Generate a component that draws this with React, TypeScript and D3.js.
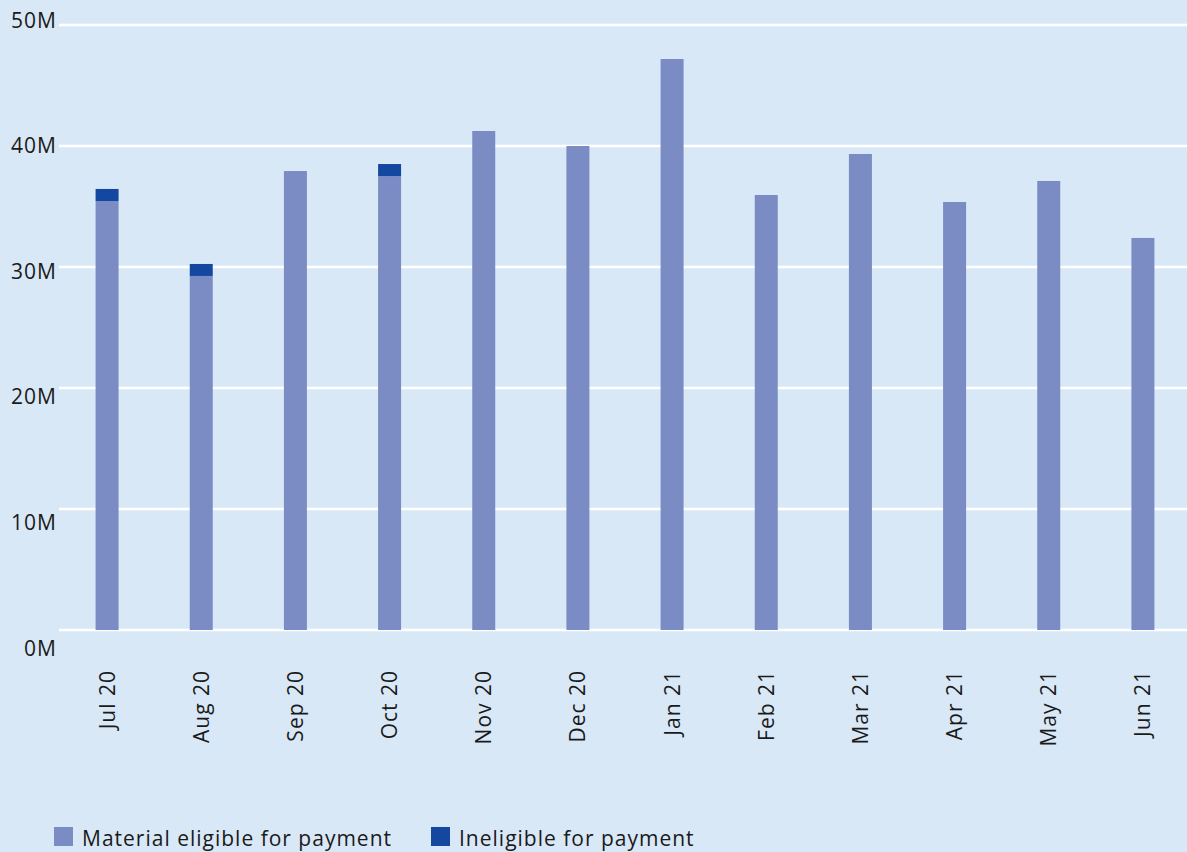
import React from "react";
import * as d3 from "d3";

const categories = ["Jul 20", "Aug 20", "Sep 20", "Oct 20", "Nov 20", "Dec 20", "Jan 21", "Feb 21", "Mar 21", "Apr 21", "May 21", "Jun 21"];
const eligible = [35.45, 29.26, 37.93, 37.52, 41.24, 40.0, 47.19, 35.95, 39.34, 35.37, 37.11, 32.4];
const ineligible = [1.0, 0.99, 0, 0.99, 0, 0, 0, 0, 0, 0, 0, 0];
const yTicks = [0, 10, 20, 30, 40, 50];
const legendItems = ["Material eligible for payment", "Ineligible for payment"];

const W = 1187;
const H = 852;
const BG = "#d9e8f7";
const C_ELIG = "#7b8bc4";
const C_INEL = "#1447a0";
const TEXT = "#1a1a1a";
const FONT = "'Open Sans', 'Noto Sans', sans-serif";
const FS = 21;
const LS = 1.0;

export default function App() {
  const x = d3.scaleBand<string>().domain(categories).range([60, 1190]).padding(0);
  const y = d3.scaleLinear().domain([0, 50]).range([630, 25]);
  const yLabel = d3.scaleLinear().domain([0, 50]).range([648, 20]);
  const barW = 23;
  const legendX = [54, 431];

  return (
    <svg width={W} height={H} style={{ position: "absolute", left: 0, top: 0, background: BG }}>
      <rect x={0} y={0} width={W} height={H} fill={BG} />
      {yTicks.map((t) => (
        <g key={t}>
          <line x1={59} x2={W} y1={y(t)} y2={y(t)} stroke="#ffffff" strokeWidth={2.5} />
          <text x={57} y={yLabel(t)} dy="0.36em" textAnchor="end" fontFamily={FONT} fontSize={FS} letterSpacing={LS} fill={TEXT}>
            {t}M
          </text>
        </g>
      ))}
      {categories.map((c, i) => {
        const cx = (x(c) as number) + x.bandwidth() / 2;
        const e = eligible[i];
        const ie = ineligible[i];
        return (
          <g key={c}>
            <rect x={cx - barW / 2} y={y(e)} width={barW} height={y(0) - y(e)} fill={C_ELIG} />
            {ie > 0 && (
              <rect x={cx - barW / 2} y={y(e + ie)} width={barW} height={y(e) - y(e + ie)} fill={C_INEL} />
            )}
            <text
              transform={`translate(${cx},670) rotate(-90)`}
              textAnchor="end"
              dy="0.36em"
              fontFamily={FONT}
              fontSize={FS}
              letterSpacing={LS}
              fill={TEXT}
            >
              {c}
            </text>
          </g>
        );
      })}
      {legendItems.map((l, i) => (
        <g key={l}>
          <rect x={legendX[i]} y={827} width={19} height={19} fill={i === 0 ? C_ELIG : C_INEL} />
          <text x={legendX[i] + 28} y={838} dy="0.36em" fontFamily={FONT} fontSize={FS} letterSpacing={LS} fill={TEXT}>
            {l}
          </text>
        </g>
      ))}
    </svg>
  );
}
